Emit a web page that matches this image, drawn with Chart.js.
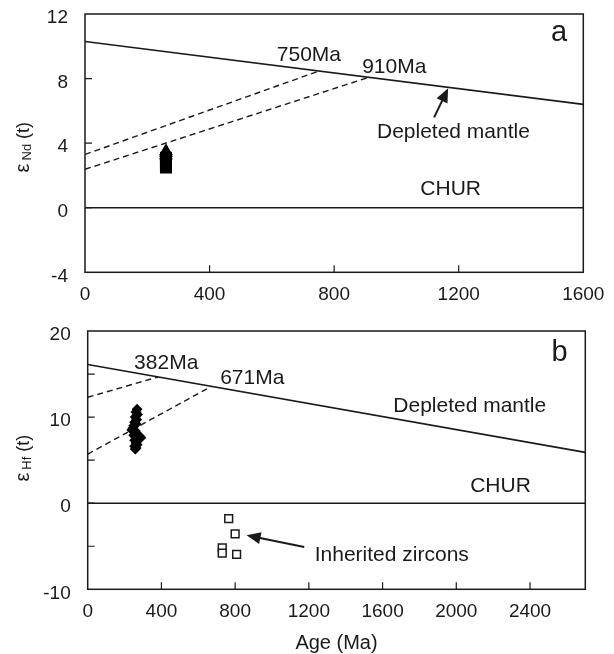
<!DOCTYPE html>
<html>
<head>
<meta charset="utf-8">
<title>Nd and Hf isotope evolution</title>
<script src="https://cdn.jsdelivr.net/npm/chart.js@4.4.0/dist/chart.umd.min.js"></script>
<style>
  html, body { margin: 0; padding: 0; background: #fff; }
  #wrap { position: relative; width: 614px; height: 654px; }
  #chart-a { position: absolute; left: 0; top: 0; }
  #chart-b { position: absolute; left: 0; top: 318px; }
</style>
</head>
<body>
<div id="wrap">
  <canvas id="chart-a" width="614" height="310"></canvas>
  <canvas id="chart-b" width="614" height="336"></canvas>
</div>
<script>
// ---- panel a: eNd(t) vs age ----
const ndXTicks = [0, 400, 800, 1200, 1600];
const ndYTicks = [-4, 0, 4, 8, 12];
const ndDepletedMantle = [[0, 10.3], [1600, 6.4]];
const ndChur = [[0, 0], [1600, 0]];
const ndModel750 = [[0, 3.3], [750, 8.46]];
const ndModel910 = [[0, 2.38], [910, 8.07]];
const ndTriangles = [[260, 3.25], [260, 3.4], [260, 3.5]];
const ndSquares = [[260, 2.5], [260, 2.65], [260, 2.8], [260, 2.95], [260, 3.1]];

// ---- panel b: eHf(t) vs age ----
const hfXTicks = [0, 400, 800, 1200, 1600, 2000, 2400];
const hfYTicks = [-10, -5, 0, 5, 10, 15, 20];
const hfYLabels = [-10, 0, 10, 20];
const hfDepletedMantle = [[0, 16.1], [2700, 5.9]];
const hfChur = [[0, 0], [2700, 0]];
const hfModel382 = [[0, 12.3], [382, 14.66]];
const hfModel671 = [[0, 5.7], [671, 13.57]];
const hfZircons = [
  [268, 10.9], [262, 10.6], [270, 10.3], [258, 10.0], [265, 9.7], [255, 9.4],
  [262, 9.2], [250, 9.0], [245, 8.7], [240, 8.5], [258, 8.4], [265, 8.1],
  [250, 7.9], [280, 7.8], [288, 7.6], [270, 7.4], [255, 7.3], [262, 7.0],
  [268, 6.8], [255, 6.6], [262, 6.4], [258, 6.3]
];
const hfInherited = [[765, -1.8], [800, -3.55], [730, -5.2], [730, -5.8], [808, -5.95]];

const FONT = '"Liberation Sans", Arial, Helvetica, sans-serif';
const INK = '#1a1a1a';

const pts = arr => arr.map(([x, y]) => ({ x, y }));

// frame box + inward tick marks
const frameTicks = {
  id: 'frameTicks',
  afterDraw(chart) {
    const { ctx, chartArea: a, scales } = chart;
    ctx.save();
    ctx.strokeStyle = INK;
    ctx.lineWidth = 1.5;
    ctx.strokeRect(a.left, a.top, a.right - a.left, a.bottom - a.top);
    ctx.lineWidth = 1.2;
    ctx.beginPath();
    scales.x.ticks.forEach(t => {
      if (t.value <= scales.x.min || t.value >= scales.x.max) return;
      const px = scales.x.getPixelForValue(t.value);
      ctx.moveTo(px, a.bottom);
      ctx.lineTo(px, a.bottom - 7);
    });
    scales.y.ticks.forEach(t => {
      if (t.value <= scales.y.min || t.value >= scales.y.max) return;
      const py = scales.y.getPixelForValue(t.value);
      ctx.moveTo(a.left, py);
      ctx.lineTo(a.left + 7, py);
    });
    ctx.stroke();
    ctx.restore();
  }
};

// text labels, arrows and the y-axis title
const notes = {
  id: 'notes',
  afterDatasetsDraw(chart, args, opts) {
    const { ctx, chartArea: a, scales: { x, y } } = chart;
    ctx.save();
    ctx.fillStyle = INK;
    ctx.strokeStyle = INK;
    ctx.textAlign = 'center';
    ctx.textBaseline = 'middle';
    (opts.labels || []).forEach(l => {
      ctx.font = (l.size || 21) + 'px ' + FONT;
      ctx.fillText(l.text, x.getPixelForValue(l.x), y.getPixelForValue(l.y));
    });
    (opts.arrows || []).forEach(ar => {
      const x1 = x.getPixelForValue(ar.from[0]), y1 = y.getPixelForValue(ar.from[1]);
      const x2 = x.getPixelForValue(ar.to[0]), y2 = y.getPixelForValue(ar.to[1]);
      const ang = Math.atan2(y2 - y1, x2 - x1);
      const hl = 14, hw = 6;
      ctx.lineWidth = 2;
      ctx.beginPath();
      ctx.moveTo(x1, y1);
      ctx.lineTo(x2 - Math.cos(ang) * hl * 0.8, y2 - Math.sin(ang) * hl * 0.8);
      ctx.stroke();
      ctx.beginPath();
      ctx.moveTo(x2, y2);
      ctx.lineTo(x2 - Math.cos(ang) * hl - Math.sin(ang) * hw, y2 - Math.sin(ang) * hl + Math.cos(ang) * hw);
      ctx.lineTo(x2 - Math.cos(ang) * hl + Math.sin(ang) * hw, y2 - Math.sin(ang) * hl - Math.cos(ang) * hw);
      ctx.closePath();
      ctx.fill();
    });
    const t = opts.yTitle;
    if (t) {
      const eps = '20px ' + FONT, big = '18px ' + FONT, small = '13px ' + FONT;
      ctx.font = eps;
      const w1 = ctx.measureText('ε').width;
      ctx.font = big;
      const w3 = ctx.measureText('(t)').width;
      ctx.font = small;
      const w2 = ctx.measureText(t.sub).width;
      const total = w1 + 3 + w2 + 5 + w3;
      ctx.translate(29, (a.top + a.bottom) / 2 + t.shift);
      ctx.rotate(-Math.PI / 2);
      ctx.textAlign = 'left';
      ctx.textBaseline = 'alphabetic';
      let cx = -total / 2;
      ctx.font = eps;
      ctx.fillText('ε', cx, 0);
      cx += w1 + 3;
      ctx.font = small;
      ctx.fillText(t.sub, cx, 1.5);
      cx += w2 + 5;
      ctx.font = big;
      ctx.fillText('(t)', cx, 0);
    }
    ctx.restore();
  }
};

function lineSet(data, dashed) {
  return {
    data: pts(data), showLine: true, pointRadius: 0, fill: false,
    borderColor: INK, borderWidth: dashed ? 1.4 : 1.6,
    borderDash: dashed ? [6, 4] : []
  };
}

function noPad(s) {
  s.paddingTop = 0;
  s.paddingBottom = 0;
  s.paddingLeft = 0;
  s.paddingRight = 0;
}

function makeOptions(cfg) {
  return {
    responsive: false,
    animation: false,
    layout: { padding: cfg.padding },
    plugins: {
      legend: { display: false },
      tooltip: { enabled: false },
      notes: { labels: cfg.labels, arrows: cfg.arrows, yTitle: cfg.yTitle }
    },
    scales: {
      x: {
        type: 'linear', min: 0, max: cfg.xMax,
        afterBuildTicks: s => { s.ticks = cfg.xTicks.map(v => ({ value: v })); },
        afterFit: s => { s.height = cfg.xHeight; noPad(s); },
        grid: { display: false, drawTicks: false },
        border: { display: false },
        ticks: {
          color: INK, font: { size: 19, family: FONT }, padding: 11, maxRotation: 0, autoSkip: false,
          callback: v => String(v)
        },
        title: cfg.xTitle ? {
          display: true, text: cfg.xTitle, color: INK,
          font: { size: 20, family: FONT, lineHeight: 1.1 }, padding: 0
        } : { display: false }
      },
      y: {
        type: 'linear', min: cfg.yMin, max: cfg.yMax,
        afterBuildTicks: s => { s.ticks = cfg.yTicks.map(v => ({ value: v })); },
        afterFit: s => { s.width = cfg.yWidth; noPad(s); },
        grid: { display: false, drawTicks: false },
        border: { display: false },
        ticks: {
          color: INK, font: { size: 19, family: FONT }, padding: 17, labelOffset: 4, autoSkip: false,
          callback: v => (cfg.yLabels ? (cfg.yLabels.includes(v) ? String(v) : '') : String(v))
        }
      }
    }
  };
}

new Chart(document.getElementById('chart-a'), {
  type: 'scatter',
  data: {
    datasets: [
      { data: pts(ndTriangles), pointStyle: 'triangle', pointRadius: 8, backgroundColor: '#000', borderWidth: 0 },
      { data: pts(ndSquares), pointStyle: 'rect', pointRadius: 8.5, backgroundColor: '#000', borderWidth: 0 },
      lineSet(ndDepletedMantle, false),
      lineSet(ndChur, false),
      lineSet(ndModel750, true),
      lineSet(ndModel910, true)
    ]
  },
  options: makeOptions({
    xMax: 1600, yMin: -4, yMax: 12, xTicks: ndXTicks, yTicks: ndYTicks,
    padding: { left: 0, right: 30.7, top: 14, bottom: 0 },
    xHeight: 37.7, yWidth: 85,
    labels: [
      { text: '750Ma', x: 719, y: 9.45 },
      { text: '910Ma', x: 993, y: 8.68 },
      { text: 'Depleted mantle', x: 1183, y: 4.69 },
      { text: 'CHUR', x: 1174, y: 1.16 },
      { text: 'a', x: 1522, y: 10.82, size: 29 }
    ],
    arrows: [{ from: [1121, 5.6], to: [1166, 7.4] }],
    yTitle: { sub: 'Nd', shift: 4 }
  }),
  plugins: [frameTicks, notes]
});

new Chart(document.getElementById('chart-b'), {
  type: 'scatter',
  data: {
    datasets: [
      { data: pts(hfZircons), pointStyle: 'rectRot', pointRadius: 5.5, backgroundColor: '#000', borderWidth: 0 },
      { data: pts(hfInherited), pointStyle: 'rect', pointRadius: 5.5, backgroundColor: '#fff', borderColor: INK, borderWidth: 1.5 },
      lineSet(hfDepletedMantle, false),
      lineSet(hfChur, false),
      lineSet(hfModel382, true),
      lineSet(hfModel671, true)
    ]
  },
  options: makeOptions({
    xMax: 2700, yMin: -10, yMax: 20, xTicks: hfXTicks, yTicks: hfYTicks, yLabels: hfYLabels,
    padding: { left: 0, right: 28.7, top: 13, bottom: 0 },
    xHeight: 64.7, yWidth: 87.7, xTitle: 'Age (Ma)',
    labels: [
      { text: '382Ma', x: 426, y: 16.3 },
      { text: '671Ma', x: 893, y: 14.5 },
      { text: 'Depleted mantle', x: 2073, y: 11.3 },
      { text: 'CHUR', x: 2240, y: 2.0 },
      { text: 'b', x: 2560, y: 17.4, size: 29 },
      { text: 'Inherited zircons', x: 1650, y: -6.05 }
    ],
    arrows: [{ from: [1175, -5.08], to: [862, -3.72] }],
    yTitle: { sub: 'Hf', shift: -2 }
  }),
  plugins: [frameTicks, notes]
});
</script>
</body>
</html>
